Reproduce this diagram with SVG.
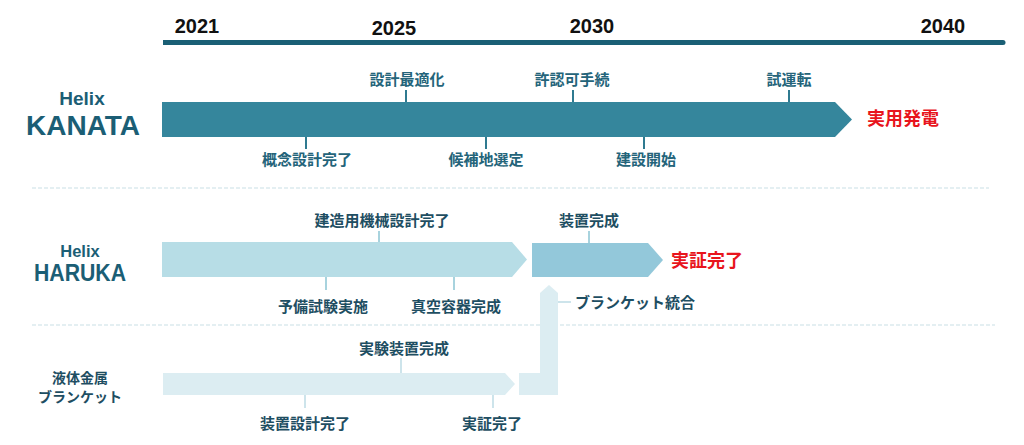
<svg xmlns="http://www.w3.org/2000/svg" width="1024" height="445" viewBox="0 0 1024 445">
<style>
.yr{font-family:"Liberation Sans","Noto Sans",sans-serif;font-weight:700;font-size:20px;fill:#111;text-anchor:middle}
.ttl{font-family:"Liberation Sans","Noto Sans",sans-serif;font-weight:700;fill:#1b5e75;text-anchor:middle}
.ms{font-family:"Noto Sans CJK JP","Noto Sans",sans-serif;font-weight:700;font-size:15px;fill:#24647a;text-anchor:middle}
.ms2{font-family:"Noto Sans CJK JP","Noto Sans",sans-serif;font-weight:700;font-size:15px;fill:#1e4e62;text-anchor:middle}
.lm{font-family:"Noto Sans CJK JP","Noto Sans",sans-serif;font-weight:700;font-size:14px;fill:#1e4e62;text-anchor:middle}
.goal{font-family:"Noto Sans CJK JP","Noto Sans",sans-serif;font-weight:700;font-size:18px;fill:#e8141c}
.sep{stroke:#c9dfe5;stroke-width:1.2;stroke-dasharray:4 2;fill:none}
.tk1{stroke:#2f7a90;stroke-width:2}
.tk2{stroke:#a8d3de;stroke-width:2}
.tk3{stroke:#cde4eb;stroke-width:2}
</style>
<rect width="1024" height="445" fill="#fff"/>

<g id="axis">
<rect x="163" y="40" width="840" height="5" fill="#1a5f75"/>
<circle cx="1003" cy="42.5" r="2.5" fill="#1a5f75"/>
<text class="yr" x="197" y="33">2021</text>
<text class="yr" x="394" y="35">2025</text>
<text class="yr" x="592" y="33">2030</text>
<text class="yr" x="943" y="33">2040</text>
</g>

<g id="separators">
<line class="sep" x1="32" y1="188" x2="989" y2="188"/>
<line class="sep" x1="32" y1="325" x2="995" y2="325"/>
</g>

<g id="kanata-label">
<text class="ttl" x="82" y="105" font-size="19">Helix</text>
<text class="ttl" x="83" y="135" font-size="28">KANATA</text>
</g>
<g id="kanata-bar">
<polygon points="162,102 835,102 852,119.5 835,137 162,137" fill="#35869c"/>
</g>
<g id="kanata-goal"><text class="goal" x="867" y="125">実用発電</text></g>

<g id="haruka-label">
<text class="ttl" x="80" y="257" font-size="16.5">Helix</text>
<text class="ttl" x="80" y="281" font-size="24" textLength="92" lengthAdjust="spacingAndGlyphs">HARUKA</text>
</g>
<g id="haruka-bar1">
<polygon points="162,242 512,242 527,259.5 512,277 162,277" fill="#b7dde6"/>
</g>
<g id="haruka-bar2">
<polygon points="532,243 648,243 663,260 648,277 532,277" fill="#93c8da"/>
</g>
<g id="haruka-goal"><text class="goal" x="671" y="267">実証完了</text></g>

<g id="lm-label">
<text class="lm" x="80" y="383">液体金属</text>
<text class="lm" x="80" y="402">ブランケット</text>
</g>
<g id="lm-bar">
<polygon points="163,373 505,373 515,384 505,395 163,395" fill="#dcedf2"/>
</g>
<g id="lm-merge">
<polygon points="519,373 540,373 540,293 549,285 558,293 558,395 519,395" fill="#dcedf2"/>
</g>

<g id="connectors">
<line class="tk1" x1="406" y1="90" x2="406" y2="102"/>
<line class="tk1" x1="573" y1="90" x2="573" y2="102"/>
<line class="tk1" x1="789" y1="90" x2="789" y2="102"/>
<line class="tk1" x1="306" y1="137" x2="306" y2="149"/>
<line class="tk1" x1="486" y1="137" x2="486" y2="149"/>
<line class="tk1" x1="644" y1="137" x2="644" y2="149"/>
<line class="tk2" x1="379" y1="231" x2="379" y2="242"/>
<line class="tk2" x1="589" y1="231" x2="589" y2="243"/>
<line class="tk2" x1="326" y1="277" x2="326" y2="290"/>
<line class="tk2" x1="454" y1="277" x2="454" y2="290"/>
<line class="tk3" x1="558" y1="302" x2="571" y2="302"/>
<line class="tk3" x1="401" y1="358" x2="401" y2="373"/>
<line class="tk3" x1="305" y1="395" x2="305" y2="408"/>
<line class="tk3" x1="493" y1="395" x2="493" y2="408"/>
</g>

<g id="kanata-milestones">
<text class="ms" x="407" y="85">設計最適化</text>
<text class="ms" x="572" y="85">許認可手続</text>
<text class="ms" x="789" y="85">試運転</text>
<text class="ms" x="307" y="165">概念設計完了</text>
<text class="ms" x="486" y="165">候補地選定</text>
<text class="ms" x="646" y="165">建設開始</text>
</g>
<g id="haruka-milestones">
<text class="ms2" x="382" y="226">建造用機械設計完了</text>
<text class="ms2" x="589" y="226">装置完成</text>
<text class="ms2" x="323" y="312">予備試験実施</text>
<text class="ms2" x="456" y="312">真空容器完成</text>
<text class="ms2" x="575" y="308" style="text-anchor:start">ブランケット統合</text>
</g>
<g id="lm-milestones">
<text class="ms2" x="404" y="354">実験装置完成</text>
<text class="ms2" x="305" y="429">装置設計完了</text>
<text class="ms2" x="492" y="429">実証完了</text>
</g>
</svg>
